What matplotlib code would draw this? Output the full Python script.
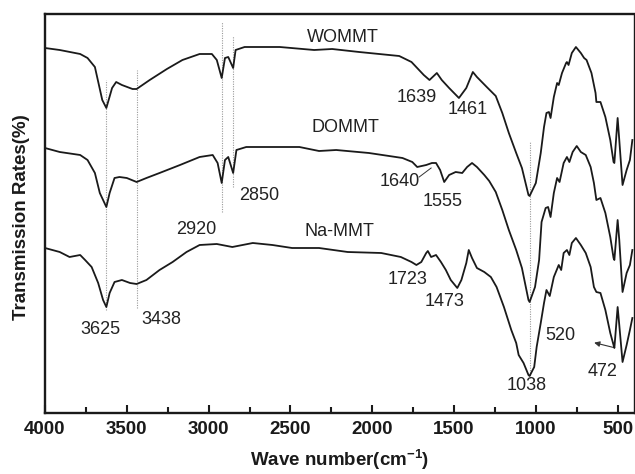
import matplotlib
matplotlib.use('Agg')
from matplotlib import pyplot as plt

plt.rcParams['font.family'] = ['Liberation Sans', 'DejaVu Sans']
plt.rcParams['mathtext.fontset'] = 'custom'
plt.rcParams['mathtext.bf'] = 'Liberation Sans:bold'
plt.rcParams['mathtext.rm'] = 'Liberation Sans:bold'

# FTIR spectra (transmission in arbitrary units, stacked)
wommt_wn = [4000, 3910, 3785, 3740, 3695, 3650, 3625, 3590, 3565, 3530, 3465, 3440,
            3360, 3255, 3160, 3055, 2980, 2950, 2920, 2900, 2880, 2850, 2835, 2780,
            2565, 2355, 2245, 2080, 1835, 1760, 1685, 1650, 1605, 1575, 1530, 1470,
            1425, 1385, 1360, 1300, 1245, 1205, 1165, 1120, 1085, 1045, 1038, 1000,
            970, 950, 935, 920, 910, 890, 870, 860, 840, 815, 810, 800, 780, 755,
            725, 705, 690, 660, 635, 630, 605, 575, 545, 525, 520, 500, 490, 470,
            445, 425, 410]
wommt_t = [365, 363, 359, 355, 346, 313, 305, 325, 331, 328, 324, 324,
           333, 344, 353, 359, 359, 353, 335, 355, 356, 345, 363, 366,
           366, 363, 364, 361, 357, 351, 338, 333, 340, 333, 325, 315,
           325, 341, 336, 326, 317, 300, 280, 260, 245, 218, 217, 230,
           260, 286, 300, 301, 295, 316, 330, 328, 340, 350, 351, 348, 360, 366,
           360, 355, 353, 340, 320, 311, 311, 296, 273, 251, 250, 295, 273, 228,
           243, 253, 273]

dommt_wn = [4000, 3910, 3785, 3740, 3695, 3665, 3625, 3605, 3575, 3545, 3500, 3440,
            3380, 3300, 3175, 3055, 2975, 2945, 2920, 2900, 2880, 2850, 2830, 2770,
            2445, 2325, 2220, 2020, 1815, 1755, 1725, 1670, 1635, 1610, 1585, 1560,
            1530, 1490, 1450, 1420, 1390, 1360, 1315, 1285, 1245, 1205, 1165, 1120,
            1085, 1045, 1038, 1005, 980, 965, 940, 925, 910, 890, 870, 855, 830,
            810, 795, 775, 750, 725, 695, 665, 645, 630, 605, 575, 545, 525, 520,
            500, 490, 470, 445, 425, 410]
dommt_t = [265, 261, 258, 253, 240, 220, 206, 220, 235, 236, 235, 231,
           235, 240, 248, 256, 258, 250, 230, 253, 256, 240, 263, 266,
           266, 262, 263, 260, 255, 251, 246, 248, 250, 250, 243, 231,
           238, 241, 240, 246, 250, 246, 238, 232, 221, 203, 183, 163,
           145, 113, 111, 126, 153, 191, 205, 206, 196, 220, 235, 231, 250,
           256, 251, 261, 267, 261, 258, 246, 230, 213, 215, 200, 176, 155, 153,
           193, 173, 121, 140, 148, 163]

namt_wn = [4000, 3910, 3850, 3785, 3755, 3715, 3675, 3645, 3625, 3605, 3575, 3530,
           3480, 3440, 3380, 3300, 3220, 3135, 3055, 2950, 2855, 2730, 2610, 2490,
           2325, 2150, 1945, 1825, 1760, 1730, 1700, 1670, 1660, 1640, 1610, 1580,
           1550, 1520, 1480, 1455, 1425, 1410, 1390, 1360, 1315, 1275, 1240, 1195,
           1150, 1120, 1105, 1075, 1045, 1038, 1010, 995, 970, 950, 935, 915, 890,
           860, 845, 830, 810, 795, 780, 755, 725, 695, 665, 645, 630, 605, 575,
           545, 525, 520, 500, 490, 470, 445, 425, 410]
namt_t = [165, 161, 156, 158, 153, 146, 130, 113, 106, 120, 131, 133,
          130, 129, 133, 143, 151, 161, 168, 169, 166, 170, 168, 165,
          165, 161, 160, 156, 151, 148, 151, 160, 162, 156, 158, 151,
          143, 133, 125, 133, 150, 163, 155, 145, 141, 136, 126, 106,
          83, 70, 58, 50, 38, 37, 46, 66, 90, 110, 123, 117, 136,
          148, 143, 160, 163, 158, 170, 175, 168, 160, 146, 126, 121, 120, 103,
          80, 68, 65, 106, 88, 51, 68, 83, 95]

# dotted guide lines: wavenumber, bottom, top
guide_wn = [3625, 3438, 2920, 2850, 1038]
guide_lo = [103, 105, 201, 226, 35]
guide_hi = [333, 343, 391, 377, 271]

fig = plt.figure(figsize=(6.35, 4.74), dpi=100)
ax = fig.add_axes([45/635, 61/474, 589/635, 399/474])

for x, lo, hi in zip(guide_wn, guide_lo, guide_hi):
    ax.plot([x, x], [lo, hi], color='#9a9a9a', lw=0.8, ls=(0, (1, 1.2)), zorder=1)

for wn, t in [(wommt_wn, wommt_t), (dommt_wn, dommt_t), (namt_wn, namt_t)]:
    ax.plot(wn, t, color='#1a1a1a', lw=1.3, zorder=3)

ax.set_xlim(4000, 400)
ax.set_ylim(0, 399)
ax.set_xticks([4000, 3500, 3000, 2500, 2000, 1500, 1000, 500])
ax.set_xticks(range(3750, 400, -500), minor=True)
ax.set_yticks([])
ax.tick_params(axis='x', which='both', direction='in', top=False, width=1.5,
               labelsize=13.5, pad=6, colors='#1a1a1a')
ax.tick_params(axis='x', which='major', length=6)
ax.tick_params(axis='x', which='minor', length=4)
for lbl in ax.get_xticklabels():
    lbl.set_fontweight('bold')
for side in ['top', 'left', 'bottom']:
    ax.spines[side].set_linewidth(1.7)
ax.spines['right'].set_linewidth(1.0)
for sp in ax.spines.values():
    sp.set_color('#1a1a1a')

txt = dict(fontsize=13, color='#222222', ha='center', va='center')
ax.text(2177, 376, 'WOMMT', **txt)
ax.text(2165, 285, 'DOMMT', **txt)
ax.text(2201, 181, 'Na-MMT', **txt)
ax.text(3073, 183, '2920', **txt)
ax.text(2689, 218, '2850', **txt)
ax.text(3659, 84, '3625', **txt)
ax.text(3287, 93, '3438', **txt)
ax.text(1726, 315, '1639', **txt)
ax.text(1415, 303, '1461', **txt)
ax.text(1829, 231, '1640', **txt)
ax.text(1567, 211, '1555', **txt)
ax.text(1787, 134, '1723', **txt)
ax.text(1555, 111, '1473', **txt)
ax.text(1055, 27, '1038', **txt)
ax.text(847, 78, '520', **txt)
ax.text(591, 41, '472', **txt)

ax.plot([1713, 1640], [236, 245], color='#333333', lw=0.7)
ax.annotate('', xy=(660, 71), xytext=(512, 65),
            arrowprops=dict(arrowstyle='-|>', color='#333333', lw=0.8,
                            mutation_scale=8))

fig.text(22/635, 1 - 217/474, 'Transmission Rates(%)', rotation=90,
         fontsize=13.5, fontweight='bold', ha='center', va='center', color='#1a1a1a')
fig.text(340/635, 1 - 466/474, r'Wave number(cm$^{-1}$)', fontsize=13.5,
         fontweight='bold', ha='center', va='baseline', color='#1a1a1a')

fig.savefig('out.png', dpi=100)
